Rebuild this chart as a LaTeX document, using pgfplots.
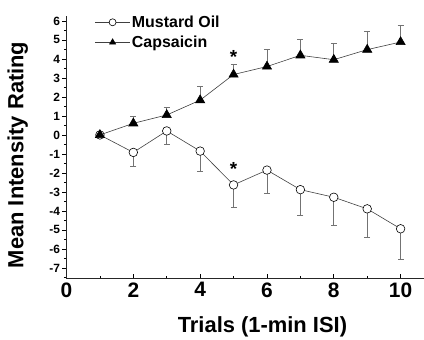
\documentclass[border=0pt]{standalone}
\usepackage{pgfplots}
\pgfplotsset{compat=1.18}
\usepackage{fontspec}
\setmainfont{Liberation Sans}
\begin{document}
\begin{tikzpicture}
\begin{axis}[
  at={(0,0)}, anchor=south west,
  scale only axis,
  width=357.5bp, height=262bp,
  xmin=0, xmax=10.7,
  ymin=-7.53, ymax=6.26,
  axis x line=bottom, axis y line=left,
  axis line style={-, black!85, line width=0.8pt},
  xtick={0,2,4,6,8,10},
  minor xtick={1,3,5,7,9},
  ytick={-7,-6,-5,-4,-3,-2,-1,0,1,2,3,4,5,6},
  minor ytick={-7.5,-6.5,-5.5,-4.5,-3.5,-2.5,-1.5,-0.5,0.5,1.5,2.5,3.5,4.5,5.5},
  /pgf/number format/assume math mode=true,
  xticklabel style={font=\bfseries\fontsize{21}{21}\selectfont, yshift=-1bp},
  yticklabel style={font=\bfseries\fontsize{12}{12}\selectfont, xshift=1bp},
  x tick style={black, line width=0.6pt},
  y tick style={black, line width=0.6pt},
  xtick align=inside, ytick align=outside,
  major tick length=4bp, minor tick length=2.5bp,
  xlabel={\bfseries Trials (1-min ISI)},
  ylabel={\bfseries Mean Intensity Rating},
  xlabel style={font=\bfseries\fontsize{22}{22}\selectfont, at={(axis description cs:0.548,-0.187)}, anchor=center},
  ylabel style={font=\bfseries\fontsize{22}{22}\selectfont, at={(axis description cs:-0.136,0.47)}, anchor=center},
  clip=false,
  legend style={at={(axis description cs:0.07,1.015)}, anchor=north west, draw=none, fill=none,
    font=\bfseries\fontsize{16}{16}\selectfont, row sep=4bp,
    nodes={inner sep=1.5bp}},
  legend cell align=left,
  legend image code/.code={\draw[#1, mark repeat=2, mark phase=2, mark size=3.5bp] plot coordinates {(0cm,0cm) (0.62cm,0cm) (1.24cm,0cm)};},
]
\addplot[black!75, line width=0.6pt, mark=*, mark size=4.3bp,
  mark options={solid, draw=black, fill=white, line width=0.6pt},
  error bars/.cd, y dir=minus, y explicit,
  error bar style={black!55, line width=0.7pt},
  error mark options={rotate=90, mark size=3bp, black!55, line width=0.7pt}]
coordinates {
 (1,0) +- (0,0)
 (2,-0.92) +- (0,0.73)
 (3,0.21) +- (0,0.70)
 (4,-0.85) +- (0,1.05)
 (5,-2.63) +- (0,1.17)
 (6,-1.85) +- (0,1.20)
 (7,-2.88) +- (0,1.36)
 (8,-3.28) +- (0,1.48)
 (9,-3.89) +- (0,1.48)
 (10,-4.94) +- (0,1.62)
};
\addlegendentry{Mustard Oil}
\addplot[black!75, line width=0.6pt, mark=triangle*, mark size=5.3bp,
  mark options={solid, black, fill=black},
  error bars/.cd, y dir=plus, y explicit,
  error bar style={black!55, line width=0.7pt},
  error mark options={rotate=90, mark size=3bp, black!55, line width=0.7pt}]
coordinates {
 (1,0) +- (0,0)
 (2,0.61) +- (0,0.36)
 (3,1.05) +- (0,0.40)
 (4,1.83) +- (0,0.72)
 (5,3.18) +- (0,0.52)
 (6,3.60) +- (0,0.89)
 (7,4.19) +- (0,0.86)
 (8,3.96) +- (0,0.88)
 (9,4.49) +- (0,0.96)
 (10,4.89) +- (0,0.87)
};
\addlegendentry{Capsaicin}
\node[anchor=base, font=\bfseries\fontsize{19}{19}\selectfont, inner sep=0pt] at (axis cs:5,3.75) {*};
\node[anchor=base, font=\bfseries\fontsize{19}{19}\selectfont, inner sep=0pt] at (axis cs:5,-2.15) {*};
\end{axis}
\pgfresetboundingbox
\path (-66.5bp,-62bp) rectangle (357.5bp,278bp);
\end{tikzpicture}
\end{document}
